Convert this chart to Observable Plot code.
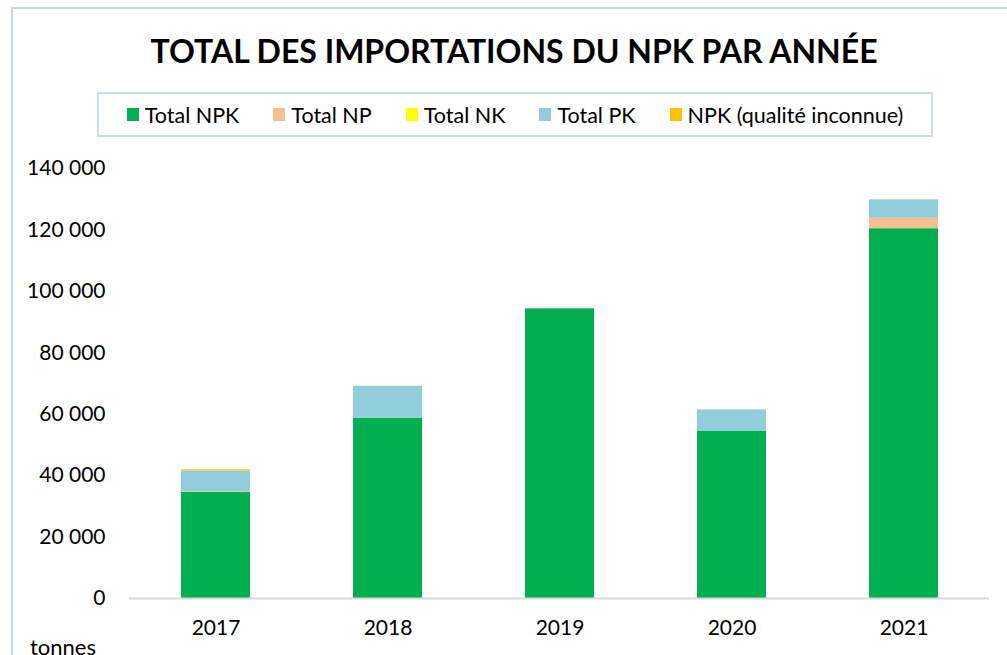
<!DOCTYPE html>
<html>
<head>
<meta charset="utf-8">
<script src="https://cdn.jsdelivr.net/npm/d3@7"></script>
<script src="https://cdn.jsdelivr.net/npm/@observablehq/plot@0.6"></script>
<style>
  html, body { margin: 0; padding: 0; background: #fff; }
  body { width: 1007px; height: 655px; position: relative; overflow: hidden; font-family: Lato, "Open Sans", sans-serif; }
  #frame { position: absolute; left: 11px; top: 7px; width: 1100px; height: 700px; border-left: 2px solid #BDD7EE; border-top: 2px solid #BDD7EE; box-sizing: border-box; }
  #title { position: absolute; left: 0; top: 31px; width: 1028px; text-align: center; font-weight: 700; font-size: 32px; color: #000; }
  #legend { position: absolute; left: 97px; top: 92px; width: 836px; height: 45px; border: 2px solid #C9DDEF; box-sizing: border-box; display: flex; align-items: center; justify-content: center; gap: 34px; font-size: 21.5px; color: #000; }
  #legend .item { display: flex; align-items: center; gap: 6px; }
  #legend .sw { width: 12px; height: 13px; display: inline-block; }
  #chart { position: absolute; left: 0; top: 140px; }
  #unit { position: absolute; left: 30px; top: 633px; font-size: 22px; color: #000; }
</style>
</head>
<body>
<div id="frame"></div>
<div id="title">TOTAL DES IMPORTATIONS DU NPK PAR ANNÉE</div>
<div id="legend"></div>
<div id="chart"></div>
<div id="unit">tonnes</div>
<script>
const years = ["2017", "2018", "2019", "2020", "2021"];
const series = ["Total NPK", "Total NP", "Total NK", "Total PK", "NPK (qualité inconnue)"];
const colors = ["#00B050", "#F8BF90", "#FFFF00", "#92CDDC", "#FFC000"];
const totalNPK = [34600, 58700, 94300, 54500, 120400];
const totalNP = [200, 0, 0, 0, 3400];
const totalNK = [0, 0, 0, 0, 0];
const totalPK = [6700, 10400, 0, 6900, 6000];
const npkInconnue = [400, 0, 0, 0, 0];
const yTicks = [0, 20000, 40000, 60000, 80000, 100000, 120000, 140000];

const valuesBySeries = [totalNPK, totalNP, totalNK, totalPK, npkInconnue];
const data = [];
series.forEach((s, si) => years.forEach((y, yi) => data.push({year: y, serie: s, value: valuesBySeries[si][yi]})));

const fmt = d3.formatLocale({decimal: ",", thousands: " ", grouping: [3], currency: ["", ""]}).format(",d");

// legend
const leg = document.getElementById("legend");
series.forEach((s, i) => {
  const it = document.createElement("div");
  it.className = "item";
  it.innerHTML = `<span class="sw" style="background:${colors[i]}"></span><span>${s}</span>`;
  leg.appendChild(it);
});

const chart = Plot.plot({
  width: 1007,
  height: 515,
  marginTop: 28,
  marginBottom: 57,
  marginLeft: 129,
  marginRight: 18,
  style: {fontFamily: "Lato, 'Open Sans', sans-serif", fontSize: "21px", color: "#000", background: "transparent"},
  x: {domain: years, paddingInner: 0.6, paddingOuter: 0.3, label: null, tickSize: 0, tickPadding: 22},
  y: {domain: [0, 140000], ticks: yTicks, tickFormat: fmt, label: null, tickSize: 0, tickPadding: 24},
  color: {domain: series, range: colors},
  marks: [
    Plot.barY(data, Plot.stackY({x: "year", y: "value", fill: "serie", order: series})),
    Plot.ruleY([0], {stroke: "#D9D9D9", strokeWidth: 2})
  ]
});
document.getElementById("chart").appendChild(chart);
</script>
</body>
</html>
